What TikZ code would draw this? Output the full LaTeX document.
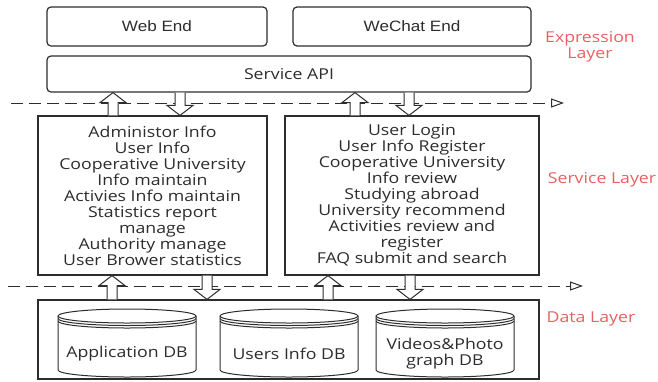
\documentclass[tikz,border=0pt]{standalone}
\usepackage{fontspec}
\setmainfont{Open Sans}[FakeStretch=1.18]
\newfontfamily\arialf{Liberation Sans}[FakeStretch=1.14]
\usepackage{tikz}
\usetikzlibrary{calc,arrows.meta}
\definecolor{layerred}{RGB}{232,96,96}
\definecolor{linegray}{RGB}{45,45,45}

\tikzset{
  box/.style={draw=linegray,text=linegray,line width=1.2pt,fill=white,inner sep=0pt,align=center},
  endbox/.style={box,rounded corners=4pt,font=\arialf\fontsize{15}{16}\selectfont},
  layer/.style={text=layerred,align=center,font=\fontsize{15}{16}\selectfont},
  dashline/.style={linegray,line width=1pt,dash pattern=on 12pt off 6pt,
    -{Triangle[open,length=13pt,width=9pt,line width=1pt]}},
  fatarrow/.style={draw=linegray,fill=white,line width=1pt,line join=miter},
  cyl/.style={draw=linegray,line width=1pt}
}

% block arrow along a column: #1 column, #2 from, #3 to
\newcommand{\fatarrow}[3]{%
  \coordinate (fs) at (#2 -| #1);
  \coordinate (ft) at (#3 -| #1);
  \coordinate (fh) at ($(ft)!10pt!(fs)$);
  \filldraw[fatarrow] ($(fs)+(-5pt,0)$) -- ($(fh)+(-5pt,0)$) -- ($(fh)+(-13pt,0)$)
    -- (ft) -- ($(fh)+(13pt,0)$) -- ($(fh)+(5pt,0)$) -- ($(fs)+(5pt,0)$);}

% database cylinder: #1 centre x, #2 node name, #3 text
\newcommand{\dbcyl}[3]{%
  \begin{scope}[shift={(#1,0)}]
    \draw[cyl] (-69,316) -- (-69,370) arc[start angle=180,end angle=360,x radius=69pt,y radius=7pt] -- (69,316);
    \draw[cyl] (0,316) ellipse [x radius=69pt,y radius=7pt];
    \draw[cyl] (-69,318.5) arc[start angle=180,end angle=360,x radius=69pt,y radius=7pt];
    \draw[cyl] (-69,321) arc[start angle=180,end angle=360,x radius=69pt,y radius=7pt];
    \node[align=center,text=linegray,font=\fontsize{15}{16}\selectfont] (#2) at (0,354) {#3};
  \end{scope}}

\begin{document}
\begin{tikzpicture}[x=1pt,y=-1pt]
\useasboundingbox (0,0) rectangle (658,381);

% columns of the block arrows
\coordinate (t1) at (113,0);
\coordinate (t2) at (180,0);
\coordinate (t3) at (355,0);
\coordinate (t4) at (409,0);
\coordinate (d1) at (112,0);
\coordinate (d2) at (207,0);
\coordinate (d3) at (328,0);
\coordinate (d4) at (410,0);

% layer borders
\coordinate (dashL1) at (11,103);
\coordinate (dashR1) at (564,103);
\coordinate (dashL2) at (8,286);
\coordinate (dashR2) at (583,286);
\draw[dashline] (dashL1) -- (dashR1);
\draw[dashline] (dashL2) -- (dashR2);

% expression layer
\node[endbox,minimum width=220pt,minimum height=39pt] (web) at (157,26.5) {Web End};
\node[endbox,minimum width=238pt,minimum height=39pt] (wechat) at (412,26.5) {WeChat End};
\node[box,rounded corners=4pt,minimum width=484pt,minimum height=36pt,
  font=\fontsize{15}{16}\selectfont] (api) at (289,74) {Service API};
\node[layer] (exprlayer) at (590,47) {Expression\\Layer};

% service layer
\node[box,minimum width=229pt,minimum height=159pt,font=\fontsize{15}{16}\selectfont] (adminsvc) at (152.5,195.5)
  {Administor Info\\User Info\\Cooperative University\\Info maintain\\Activies Info maintain\\
   Statistics report\\manage\\Authority manage\\User Brower statistics};
\node[box,minimum width=254pt,minimum height=159pt,font=\fontsize{15}{16}\selectfont] (usersvc) at (412,195.5)
  {User Login\\User Info Register\\Cooperative University\\Info review\\Studying abroad\\
   University recommend\\Activities review and\\register\\FAQ submit and search};
\node[layer] (svclayer) at (602,180) {Service Layer};

% data layer
\node[box,minimum width=501pt,minimum height=79pt] (data) at (288.5,339.5) {};
\dbcyl{127}{dbapp}{Application DB}
\dbcyl{289}{dbusers}{Users Info DB}
\dbcyl{445}{dbmedia}{Videos\&Photo\\graph DB}
\node[layer] (datalayer) at (591,319) {Data Layer};

% block arrows
\fatarrow{t1}{adminsvc.north}{api.south}
\fatarrow{t2}{api.south}{adminsvc.north}
\fatarrow{t3}{usersvc.north}{api.south}
\fatarrow{t4}{api.south}{usersvc.north}
\fatarrow{d1}{data.north}{adminsvc.south}
\fatarrow{d2}{adminsvc.south}{data.north}
\fatarrow{d3}{data.north}{usersvc.south}
\fatarrow{d4}{usersvc.south}{data.north}
\end{tikzpicture}
\end{document}
